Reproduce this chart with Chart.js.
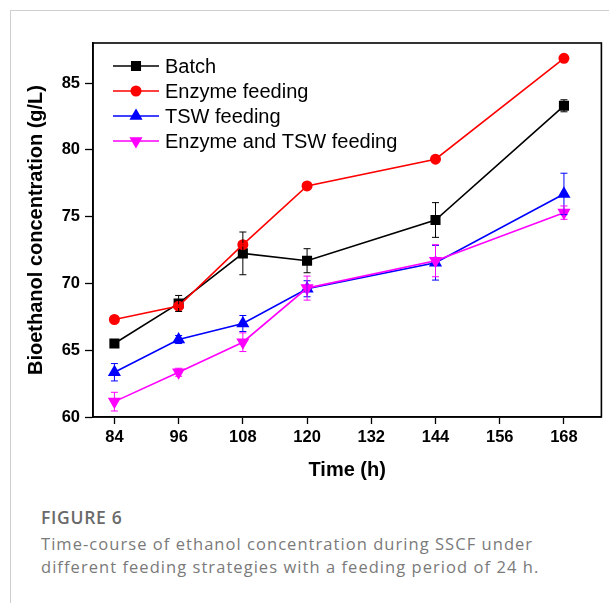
<!DOCTYPE html>
<html lang="en">
<head>
    <meta charset="UTF-8">
    <title>Figure 6</title>
    <script src="https://cdn.jsdelivr.net/npm/chart.js"></script>
    <style>
        body { margin: 0; background: #fff; }
        #frame { position: absolute; left: 10px; top: 10px; width: 610px; height: 600px;
                 border-left: 1.5px solid #cfcfcf; border-top: 1.5px solid #cfcfcf; }
        #wrap { position: absolute; left: 0; top: 0; }
        .cap { position: absolute; left: 41px; font-family: "Open Sans", sans-serif; color: #7a7a7a; }
        #figno { top: 505px; font-size: 17.5px; font-weight: 600; color: #6a6a6a; letter-spacing: 0.7px; }
        #figtxt { top: 532px; font-size: 16.5px; line-height: 23px; width: 590px; letter-spacing: 1.05px; }
    </style>
</head>
<body>
    <div id="frame"></div>
    <div id="wrap"><canvas id="chart" width="609" height="490"></canvas></div>
    <div class="cap" id="figno">FIGURE 6</div>
    <div class="cap" id="figtxt">Time-course of ethanol concentration during SSCF under<br>different feeding strategies with a feeding period of 24 h.</div>

<script>
    var times = [84, 96, 108, 120, 144, 168]
    var xTicks = [84, 96, 108, 120, 132, 144, 156, 168]
    var yTicks = [60, 65, 70, 75, 80, 85]

    var batch = [65.5, 68.5, 72.25, 71.7, 74.75, 83.3]
    var batchErr = [0.2, 0.6, 1.6, 0.9, 1.3, 0.45]
    var enzyme = [67.3, 68.3, 72.9, 77.3, 79.3, 86.85]
    var enzymeErr = [0.1, 0.1, 0.1, 0.1, 0.1, 0.1]
    var tsw = [63.35, 65.8, 67.0, 69.6, 71.55, 76.7]
    var tswErr = [0.65, 0.3, 0.6, 0.6, 1.3, 1.55]
    var mix = [61.15, 63.35, 65.6, 69.65, 71.7, 75.3]
    var mixErr = [0.7, 0.3, 0.7, 0.9, 1.2, 0.5]

    function pts(vals){ return times.map((t,i)=>({x:t, y:vals[i]})) }

    function series(label, vals, errs, color, style, r, rot, order){
        return {
            label: label, data: pts(vals), errors: errs,
            borderColor: color, backgroundColor: color,
            pointBackgroundColor: color, pointBorderColor: color,
            borderWidth: 1.6, pointStyle: style, pointRadius: r, pointRotation: rot,
            pointHoverRadius: r, order: order, tension: 0
        }
    }

    // error bars + frame drawn on top of the datasets
    var extras = {
        id: 'extras',
        afterDatasetsDraw(chart){
            const ctx = chart.ctx, xs = chart.scales.x, ys = chart.scales.y
            chart.data.datasets.forEach(ds => {
                ctx.save()
                ctx.strokeStyle = ds.borderColor
                ctx.lineWidth = 1
                ds.data.forEach((p,i) => {
                    const x = xs.getPixelForValue(p.x)
                    const y1 = ys.getPixelForValue(p.y + ds.errors[i])
                    const y2 = ys.getPixelForValue(p.y - ds.errors[i])
                    ctx.beginPath()
                    ctx.moveTo(x, y1); ctx.lineTo(x, y2)
                    ctx.moveTo(x-3.5, y1); ctx.lineTo(x+3.5, y1)
                    ctx.moveTo(x-3.5, y2); ctx.lineTo(x+3.5, y2)
                    ctx.stroke()
                })
                ctx.restore()
            })
            const a = chart.chartArea
            ctx.save()
            ctx.strokeStyle = '#000'
            ctx.lineWidth = 1.6
            ctx.strokeRect(a.left, a.top, a.right - a.left, a.bottom - a.top)

            // legend inside the plot, line with marker
            ctx.font = '20px "Liberation Sans", Arial, sans-serif'
            ctx.textBaseline = 'middle'
            chart.data.datasets.forEach((ds,i) => {
                const y = 66 + i*25
                ctx.strokeStyle = ds.borderColor
                ctx.fillStyle = ds.borderColor
                ctx.lineWidth = 1.6
                ctx.beginPath(); ctx.moveTo(113, y); ctx.lineTo(159, y); ctx.stroke()
                Chart.helpers.drawPoint(ctx, {pointStyle: ds.pointStyle, radius: ds.pointRadius, rotation: ds.pointRotation, borderWidth: 1}, 136, y)
                ctx.fillStyle = '#000'
                ctx.fillText(ds.label, 165, y + 1)
            })
            ctx.restore()
        }
    }

    var tickFont = {family: '"Liberation Sans", Arial, sans-serif', size: 16.5, weight: 'bold'}
    var titleFont = {family: '"Liberation Sans", Arial, sans-serif', size: 20, weight: 'bold'}

    var chart = new Chart(document.getElementById('chart'), {
        type: 'line',
        data: {
            datasets: [
                series('Batch', batch, batchErr, '#000000', 'rect', 6, 0, 4),
                series('Enzyme feeding', enzyme, enzymeErr, '#ff0000', 'circle', 4.7, 0, 3),
                series('TSW feeding', tsw, tswErr, '#0000ff', 'triangle', 6, 0, 2),
                series('Enzyme and TSW feeding', mix, mixErr, '#ff00ff', 'triangle', 6, 180, 1)
            ]
        },
        options: {
            responsive: false,
            animation: false,
            layout: {padding: {top: 43, right: 6, left: 0, bottom: 0}},
            plugins: {legend: {display: false}, tooltip: {enabled: false}},
            scales: {
                x: {
                    type: 'linear', min: 80, max: 175,
                    afterBuildTicks: s => { s.ticks = xTicks.map(v => ({value: v})) },
                    afterFit: s => { s.height = 73 },
                    grid: {drawOnChartArea: false, color: '#000', tickLength: 7, tickWidth: 1.3},
                    border: {color: '#000', width: 1.6},
                    ticks: {color: '#000', font: tickFont, padding: 4, maxRotation: 0, autoSkip: false},
                    title: {display: true, text: 'Time (h)', color: '#000', font: titleFont, padding: {top: 0, bottom: 8}}
                },
                y: {
                    type: 'linear', min: 60, max: 88,
                    afterBuildTicks: s => { s.ticks = yTicks.map(v => ({value: v})) },
                    afterFit: s => { s.width = 93 },
                    grid: {drawOnChartArea: false, color: '#000', tickLength: 8, tickWidth: 1.3},
                    border: {color: '#000', width: 1.6},
                    ticks: {color: '#000', font: tickFont, padding: 5},
                    title: {display: true, text: 'Bioethanol concentration (g/L)', color: '#000', font: titleFont, padding: {top: 24, bottom: 0}}
                }
            }
        },
        plugins: [extras]
    })
</script>
</body>
</html>
